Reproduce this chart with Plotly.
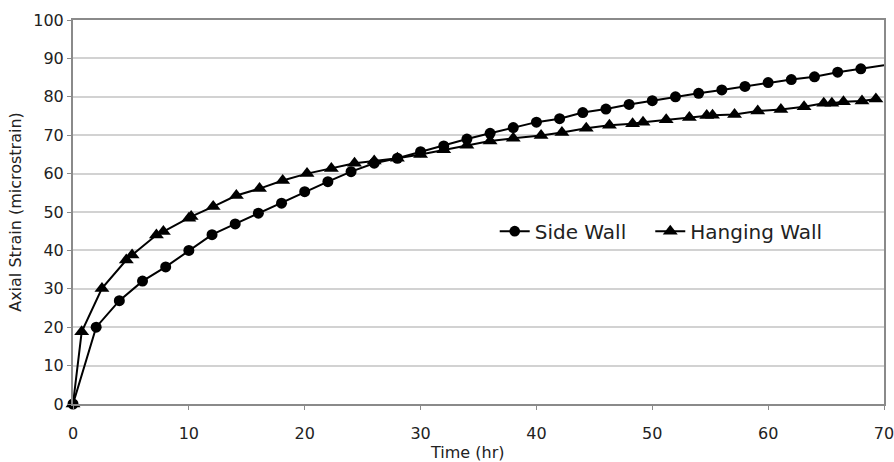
import plotly.graph_objects as go

side_x = [0, 2, 4, 6, 8, 10, 12, 14, 16, 18, 20, 22, 24, 26, 28, 30, 32, 34,
          36, 38, 40, 42, 44, 46, 48, 50, 52, 54, 56, 58, 60, 62, 64, 66, 68, 70]
side_y = [0, 20, 26.9, 32, 35.7, 40, 44.1, 46.9, 49.7, 52.3, 55.3, 57.9, 60.5,
          62.7, 64, 65.7, 67.2, 69, 70.5, 72, 73.4, 74.3, 75.9, 76.8, 78, 79,
          80, 80.9, 81.8, 82.7, 83.7, 84.5, 85.2, 86.4, 87.3, 88.2]

hang_x = [0, 0.75, 2.5, 4.6, 5.1, 7.2, 7.8, 10, 10.2, 12.1, 14.1, 16.1, 18.1,
          20.2, 22.3, 24.3, 26, 28, 30, 32, 34, 36, 38, 40.4, 42.2, 44.3, 46.3,
          48.3, 49.2, 51.2, 53.2, 54.7, 55.2, 57.1, 59.1, 61.1, 63.1, 64.8,
          65.5, 66.5, 68.1, 69.3]
hang_y = [0, 18.8, 30.1, 37.5, 38.8, 44, 44.9, 48.4, 48.8, 51.4, 54.3, 56.1,
          58.2, 60, 61.3, 62.7, 63.3, 64, 65, 66.2, 67.4, 68.5, 69.2, 69.9,
          70.7, 71.8, 72.6, 73, 73.4, 74, 74.6, 75.1, 75.2, 75.4, 76.3, 76.7,
          77.4, 78.3, 78.3, 78.7, 78.9, 79.4]

x_ticks = [0, 10, 20, 30, 40, 50, 60, 70]
y_ticks = [0, 10, 20, 30, 40, 50, 60, 70, 80, 90, 100]

side_sizes = [11] * (len(side_x) - 1) + [0]

fig = go.Figure()
fig.add_trace(go.Scatter(
    x=side_x, y=side_y, name="Side Wall\u00a0\u00a0\u00a0", mode="lines+markers",
    line=dict(color="#000000", width=2),
    marker=dict(symbol="circle", size=side_sizes, color="#000000",
                opacity=1, line=dict(width=0, color="#000000")),
    cliponaxis=False,
))
fig.add_trace(go.Scatter(
    x=hang_x, y=hang_y, name="Hanging Wall", mode="lines+markers",
    line=dict(color="#000000", width=2),
    marker=dict(symbol="triangle-up", size=13, color="#000000",
                opacity=1, line=dict(width=0, color="#000000")),
    cliponaxis=False,
))

font_family = "DejaVu Sans"
fig.update_layout(
    width=894, height=462,
    margin=dict(l=73, r=10, t=20, b=58, autoexpand=False),
    paper_bgcolor="white", plot_bgcolor="white",
    font=dict(family=font_family, color="#222", size=16),
    showlegend=True,
    legend=dict(
        orientation="h", x=0.52, y=0.45, xanchor="left", yanchor="middle",
        font=dict(size=20, color="#222"), bgcolor="rgba(0,0,0,0)",
        itemwidth=30,
    ),
    xaxis=dict(
        range=[0, 70], tickvals=x_ticks, ticktext=[str(v) for v in x_ticks],
        showgrid=False, zeroline=False,
        showline=True, linecolor="#8a8a8a", linewidth=2, mirror=True,
        ticks="outside", ticklen=4, tickcolor="#8a8a8a", tickwidth=1,
        tickfont=dict(size=16), ticklabeloverflow="allow", ticklabelstandoff=10,
    ),
    yaxis=dict(
        range=[0, 100], tickvals=y_ticks, ticktext=[str(v) for v in y_ticks],
        showgrid=True, gridcolor="#d2d2d2", gridwidth=2, zeroline=False,
        showline=True, linecolor="#8a8a8a", linewidth=2, mirror=True,
        ticks="outside", ticklen=4, tickcolor="#8a8a8a", tickwidth=1,
        tickfont=dict(size=16),
        title=dict(text="Axial Strain (microstrain)", font=dict(size=16), standoff=8),
    ),
    annotations=[dict(
        text="Time (hr)", xref="paper", yref="paper", x=0.486, y=-0.125,
        xanchor="center", yanchor="middle", showarrow=False,
        font=dict(size=16, color="#222"),
    )],
)

fig.write_html("out.html")
